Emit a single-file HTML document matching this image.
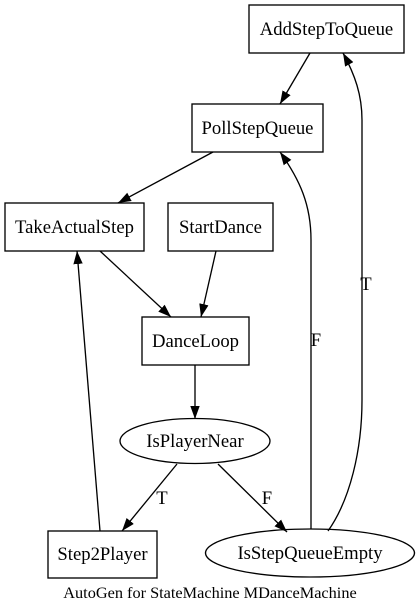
<!DOCTYPE html>
<html><head><meta charset="utf-8"><style>html,body{margin:0;padding:0;background:#fff}svg{display:block}text{font-family:"Liberation Serif",serif;font-size:18.67px;fill:#000}</style></head><body>
<svg width="420" height="611" viewBox="0 0 420 611" xmlns="http://www.w3.org/2000/svg">
<defs><marker id="a" viewBox="0 0 13 13" refX="13" refY="6.5" markerWidth="13" markerHeight="13" markerUnits="userSpaceOnUse" orient="auto"><path d="M0,1.8 L13,6.5 L0,11.2 Z" fill="#000"/></marker></defs>
<g fill="none" stroke="#000" stroke-width="1.33">
<rect x="249" y="5" width="155" height="48"/>
<rect x="192" y="104" width="131" height="48"/>
<rect x="5" y="203" width="139" height="48"/>
<rect x="168" y="203" width="105" height="48"/>
<rect x="142" y="317" width="107" height="48"/>
<ellipse cx="195" cy="441" rx="75" ry="22.5"/>
<rect x="48" y="531" width="109" height="47"/>
<ellipse cx="310" cy="553" rx="104.5" ry="24"/>
<g marker-end="url(#a)">
<path d="M310,53 L280,104"/>
<path d="M213,152 L118,203"/>
<path d="M100,251 L171,317"/>
<path d="M216,251 L201,317"/>
<path d="M195,365 L195,419"/>
<path d="M177,464 L122,531"/>
<path d="M218,464 L287,532"/>
<path d="M100,531 L77,251"/>
<path d="M311,529 L311,240 C311,205 300,180 280,152"/>
<path d="M328,531 C350,500 362,450 362,400 L362,120 C362,95 355,75 343,53"/>
</g>
</g>
<g text-anchor="middle">
<text x="326.5" y="35">AddStepToQueue</text>
<text x="257.5" y="134">PollStepQueue</text>
<text x="74.5" y="233">TakeActualStep</text>
<text x="220.5" y="233">StartDance</text>
<text x="195.5" y="347">DanceLoop</text>
<text x="195" y="447">IsPlayerNear</text>
<text x="102.5" y="560">Step2Player</text>
<text x="310" y="559">IsStepQueueEmpty</text>
<text x="162" y="504">T</text>
<text x="267" y="504">F</text>
<text x="316" y="346">F</text>
<text x="366" y="290">T</text>
<text x="210" y="598" style="font-size:16.3px">AutoGen for StateMachine MDanceMachine</text>
</g>
</svg>
</body></html>
